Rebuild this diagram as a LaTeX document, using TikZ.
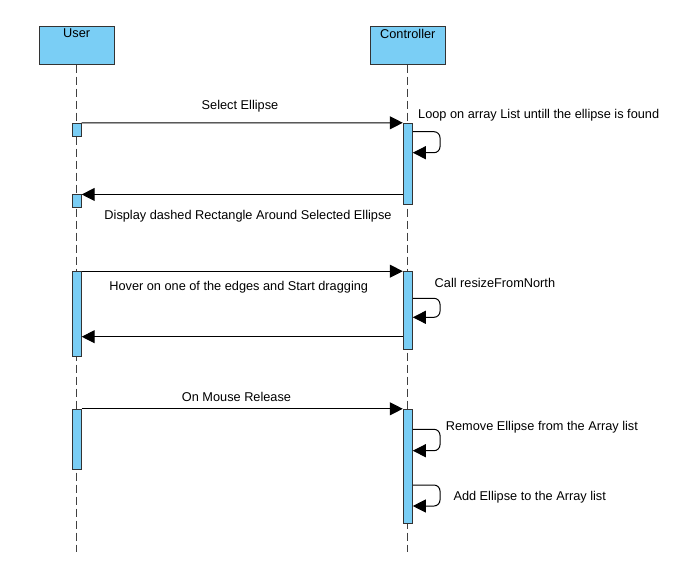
\documentclass[tikz,border=0pt]{standalone}
\usepackage{fontspec}
\setmainfont{Liberation Sans}
\usepackage{xcolor}
\usetikzlibrary{positioning,arrows.meta}
\definecolor{lifeblue}{RGB}{122,206,245}

\begin{document}
\begin{tikzpicture}[x=1pt,y=-1pt,
  every node/.style={font=\fontsize{12.75}{15}\selectfont,inner sep=0pt},
  actor/.style={draw=black!80,fill=lifeblue,line width=1pt,minimum width=75pt,minimum height=38pt},
  act/.style={draw=black!80,fill=lifeblue,line width=1pt,minimum width=9pt},
  life/.style={draw=black!75,line width=1pt,dash pattern=on 8pt off 4pt},
  msg/.style={draw=black,line width=1pt,-{Triangle[length=13pt,width=13pt]}},
  selfmsg/.style={msg,rounded corners=6pt}]
  \useasboundingbox (0,0) rectangle (674,579);
  % actors and lifelines
  \node[actor] (user) at (76.7,45) {}; \node (usertxt) at (user.north |- 0,33.5) {User};
  \node[actor] (ctrl) at (407.8,45) {}; \node (ctrltxt) at (ctrl.north |- 0,33.5) {Controller};
  \coordinate (userend) at (76.7,552); \coordinate (ctrlend) at (407.8,552);
  \draw[life] (user.south) -- (userend);
  \draw[life] (ctrl.south) -- (ctrlend);
  % activations
  \node[act,minimum height=12.7pt] (ua1) at (76.7,129.7) {};
  \node[act,minimum height=81pt] (ca1) at (407.8,163.8) {};
  \node[act,minimum height=12.7pt] (ua2) at (76.7,201.3) {};
  \node[act,minimum height=84.6pt] (ua3) at (76.7,314) {};
  \node[act,minimum height=77.6pt] (ca2) at (407.8,310.5) {};
  \node[act,minimum height=60pt] (ua4) at (76.7,439.3) {};
  \node[act,minimum height=114pt] (ca3) at (407.8,466.3) {};
  % select
  \draw[msg] (ua1.north east) -- (ca1.north west);
  \node (selecttxt) at (240,106) {Select Ellipse};
  \coordinate (loopa) at (ca1.east |- 0,131.7); \coordinate (loopb) at (ca1.east |- 0,152.7);
  \draw[selfmsg] (loopa) -- (440,131.7) -- (440,152.7) -- (loopb);
  \node[anchor=west] (looptxt) at (418,115) {Loop on array List untill the ellipse is found};
  \coordinate (backa) at (ca1.west |- ua2.north);
  \draw[msg] (backa) -- (ua2.north east);
  \node (displaytxt) at (248,216) {Display dashed Rectangle Around Selected Ellipse};
  % resize
  \draw[msg] (ua3.north east) -- (ca2.north west);
  \node (hovertxt) at (238.7,286.7) {Hover on one of the edges and Start dragging};
  \coordinate (resa) at (ca2.east |- 0,298.3); \coordinate (resb) at (ca2.east |- 0,317.3);
  \draw[selfmsg] (resa) -- (440,298.3) -- (440,317.3) -- (resb);
  \node[anchor=west] (calltxt) at (434.5,283) {Call resizeFromNorth};
  \coordinate (backb) at (ca2.west |- 0,336.7); \coordinate (backc) at (ua3.east |- 0,336.7);
  \draw[msg] (backb) -- (backc);
  % release
  \draw[msg] (ua4.north east) -- (ca3.north west);
  \node (releasetxt) at (236.5,397) {On Mouse Release};
  \coordinate (rema) at (ca3.east |- 0,429.3); \coordinate (remb) at (ca3.east |- 0,450.7);
  \draw[selfmsg] (rema) -- (440,429.3) -- (440,450.7) -- (remb);
  \node[anchor=west] (removetxt) at (445.7,427.3) {Remove Ellipse from the Array list};
  \coordinate (adda) at (ca3.east |- 0,485); \coordinate (addb) at (ca3.east |- 0,506);
  \draw[selfmsg] (adda) -- (440,485) -- (440,506) -- (addb);
  \node[anchor=west] (addtxt) at (453.3,496.7) {Add Ellipse to the Array list};
\end{tikzpicture}
\end{document}
